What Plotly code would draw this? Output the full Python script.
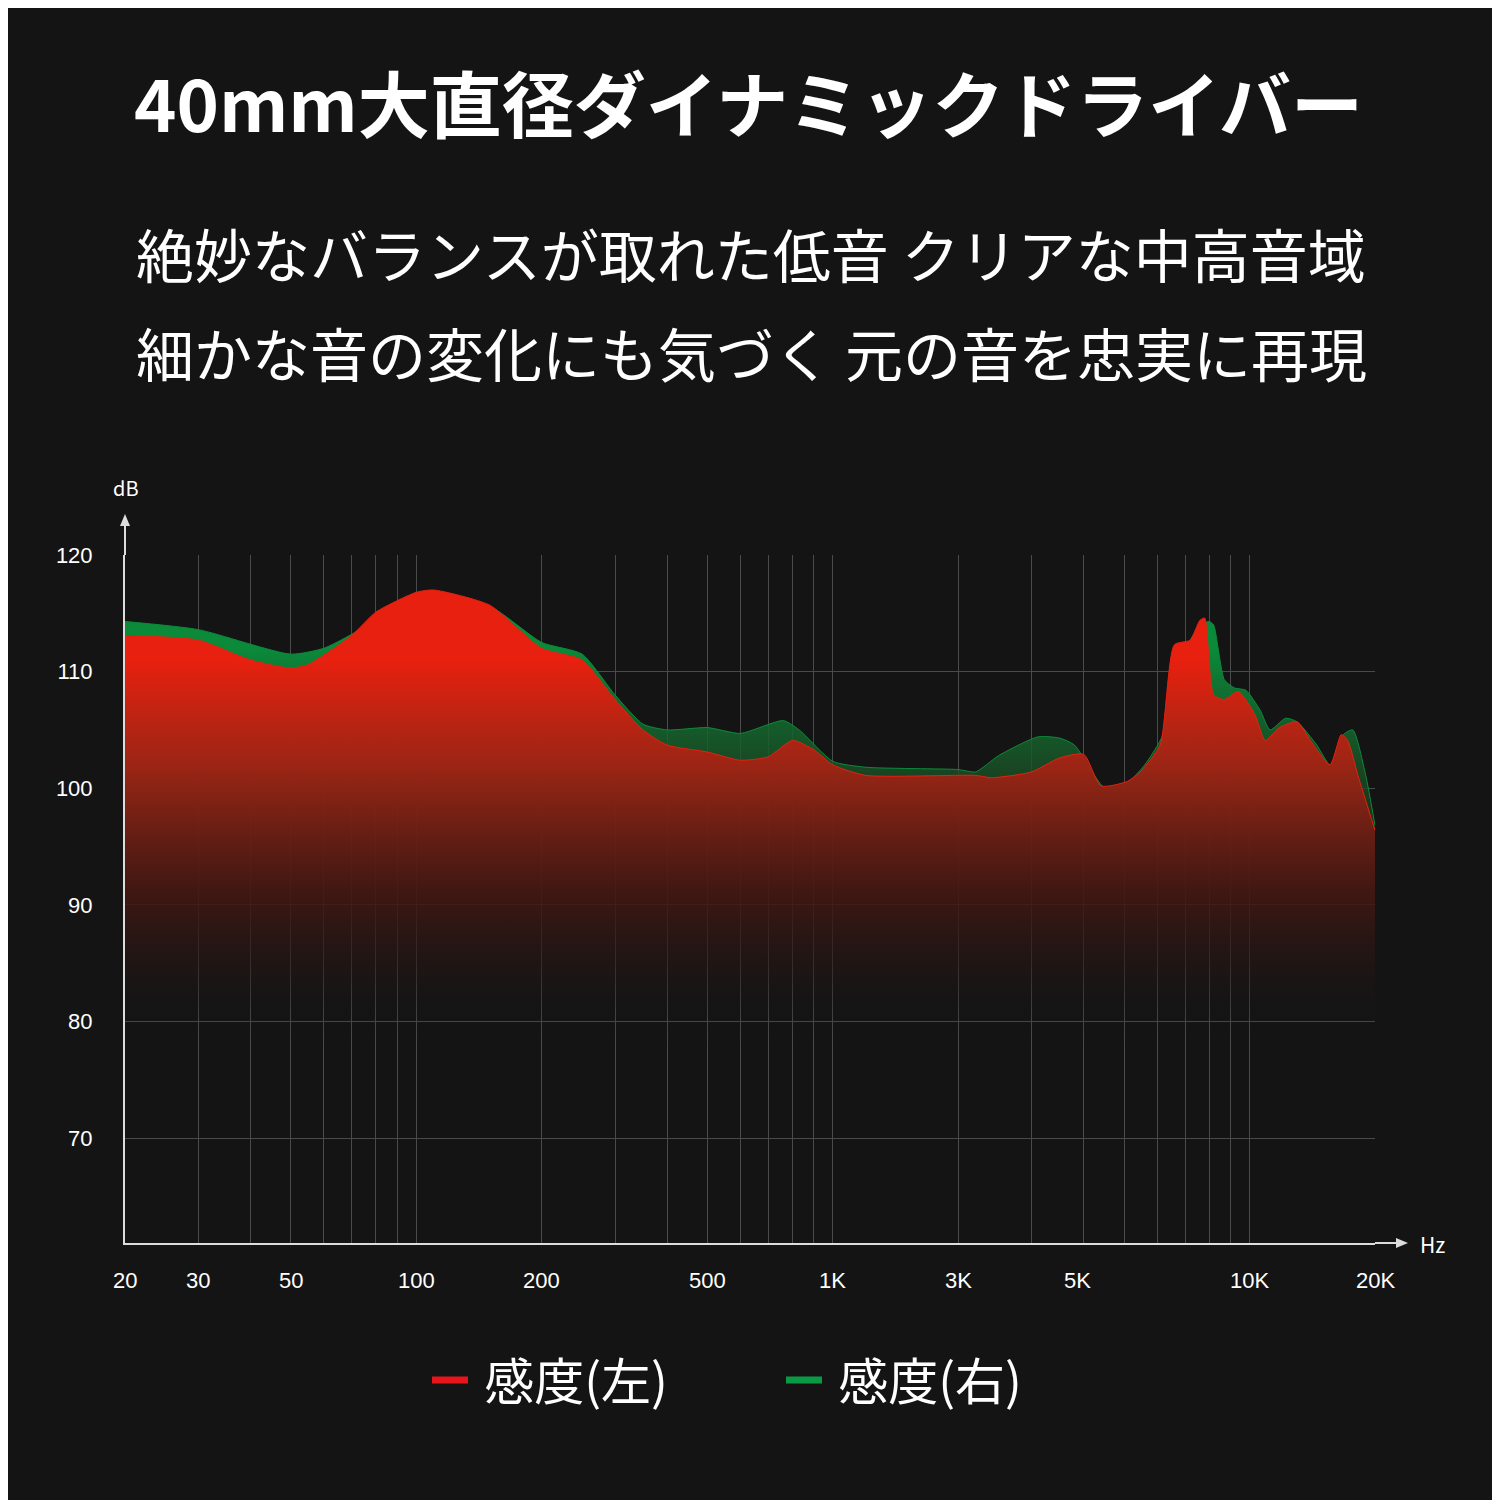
import plotly.graph_objects as go
import numpy as np

title = "40mm大直径ダイナミックドライバー"
sub1 = "絶妙なバランスが取れた低音 クリアな中高音域"
sub2 = "細かな音の変化にも気づく 元の音を忠実に再現"

red_f = [20,30,40,50,55,70,80,100,110,150,200,250,300,350,400,500,600,700,800,900,1000,1200,2200,2400,3000,3500,4000,4400,5100,5500,6100,6600,7200,7600,7800,8200,8700,9400,10300,10900,11800,13000,14000,15600,16600,17200,18200,20000]
red_db = [113.1,112.7,111.0,110.3,110.6,113.1,115.1,116.8,117.0,115.7,112.0,111.0,107.6,105.0,103.7,103.1,102.4,102.7,104.1,103.3,102.0,101.1,101.1,100.9,101.4,102.6,102.9,100.2,100.6,101.5,103.7,112.3,112.7,114.4,114.6,108.0,107.6,108.3,106.3,104.1,105.2,105.7,104.1,102.0,104.6,104.1,101.1,96.4]

green_f = [20,30,50,60,70,100,150,200,250,300,350,400,500,600,760,830,1000,1200,2000,2200,2500,3100,3500,3800,4500,5100,5600,6200,6600,7200,7600,8000,8200,8700,9200,9800,10600,11200,12200,13000,14500,15600,16800,17700,19000,20000]
green_db = [114.3,113.6,111.5,112.0,113.2,116.5,115.6,112.5,111.5,108.0,105.5,105.0,105.2,104.7,105.8,105.0,102.3,101.8,101.6,101.4,102.8,104.4,104.3,103.7,100.0,100.5,102.0,104.6,111.0,112.7,114.0,114.3,114.0,109.3,108.6,108.4,106.7,105.0,106.0,105.7,103.7,102.0,104.6,105.0,101.1,96.8]

grid_f = [20,30,40,50,60,70,80,90,100,200,300,400,500,600,700,800,900,1000,2000,3000,4000,5000,6000,7000,8000,9000,10000,20000]
label_f = [20,30,50,100,200,500,1000,2000,3870,10000,20000]
label_t = ["20","30","50","100","200","500","1K","3K","5K","10K","20K"]
y_ticks = [70,80,90,100,110,120]

font = "Noto Sans CJK JP"
OFF = 8
L, R, T, B = 125 - OFF, 1375 - OFF, 555 - OFF, 1243 - OFF
W, H = R - L, B - T

fig = go.Figure()
fig.add_trace(go.Scatter(x=green_f, y=green_db, mode="lines", line=dict(color="#0b8a3a", width=1, shape="spline", smoothing=0.6),
    fill="tozeroy", fillgradient=dict(type="vertical", start=78, stop=112,
    colorscale=[[0,"rgba(20,20,20,0)"],[0.4,"rgba(40,30,20,0.6)"],[1,"rgba(11,138,58,1)"]]), showlegend=False))
fig.add_trace(go.Scatter(x=red_f, y=red_db, mode="lines", line=dict(color="#e8200f", width=1, shape="spline", smoothing=0.6),
    fill="tozeroy", fillgradient=dict(type="vertical", start=80, stop=111,
    colorscale=[[0,"rgba(20,20,20,0)"],[0.35,"rgba(70,22,18,0.8)"],[0.7,"rgba(160,35,20,0.95)"],[1,"rgba(232,32,15,1)"]]), showlegend=False))
fig.add_trace(go.Scatter(x=[None], y=[None], mode="lines", line=dict(color="#e8141c", width=7), name=" 感度(左)"))
fig.add_trace(go.Scatter(x=[None], y=[None], mode="lines", line=dict(color="#0a9a44", width=7), name=" 感度(右)"))

fig.update_xaxes(type="log", range=[np.log10(20), np.log10(20000)], tickvals=grid_f, ticktext=[""]*len(grid_f),
    showgrid=True, gridcolor="#4a4a4a", gridwidth=1, showline=True, linecolor="#dddddd", linewidth=2, zeroline=False)
fig.update_yaxes(range=[61,120], tickvals=y_ticks, showgrid=True, gridcolor="#4a4a4a", showline=True,
    linecolor="#dddddd", linewidth=2, zeroline=False, tickfont=dict(size=22, color="white", family="Liberation Sans"), ticklabelstandoff=26)

ann = []
for f, t in zip(label_f, label_t):
    ann.append(dict(x=np.log10(f), y=0, xref="x", yref="paper", yshift=-52, text=t, showarrow=False,
        font=dict(size=22, color="white", family="Liberation Sans")))

def ptext(x, y, text, size, bold=False):
    x -= OFF; y -= OFF
    return dict(x=(x - L) / W, y=(B - y) / H, xref="paper", yref="paper", text=f"<b>{text}</b>" if bold else text,
        showarrow=False, xanchor="center", yanchor="middle", font=dict(size=size, color="white", family=font))

ann += [ptext(748, 100, title, 72, True), ptext(751, 253, sub1, 58), ptext(751, 352, sub2, 58),
        ptext(126, 488, "dB", 20), ptext(1432, 1244, "Hz", 21)]

ax = lambda px: (px - OFF - L) / W
ay = lambda py: (B - (py - OFF)) / H
fig.update_layout(width=1500, height=1500, paper_bgcolor="#141414", plot_bgcolor="#141414",
    margin=dict(l=L, r=1500 - R, t=T, b=1500 - B, autoexpand=False), annotations=ann,
    legend=dict(orientation="h", x=ax(427), xanchor="left", y=ay(1380), yanchor="middle",
        font=dict(size=50, color="white", family=font), itemwidth=36, entrywidth=303, tracegroupgap=0),
    shapes=[dict(type="line", xref="paper", yref="paper", x0=0, x1=0, y0=1, y1=ay(522), line=dict(color="#ddd", width=2)),
            dict(type="line", xref="paper", yref="paper", x0=1, x1=ax(1400), y0=0, y1=0, line=dict(color="#ddd", width=2)),
            dict(type="path", xref="paper", yref="paper",
                 path=f"M {ax(120)} {ay(526)} L {ax(130)} {ay(526)} L {ax(125)} {ay(514)} Z", fillcolor="#ddd", line=dict(width=0)),
            dict(type="path", xref="paper", yref="paper",
                 path=f"M {ax(1396)} {ay(1238)} L {ax(1396)} {ay(1248)} L {ax(1408)} {ay(1243)} Z", fillcolor="#ddd", line=dict(width=0))])
fig.write_html("out.html")
